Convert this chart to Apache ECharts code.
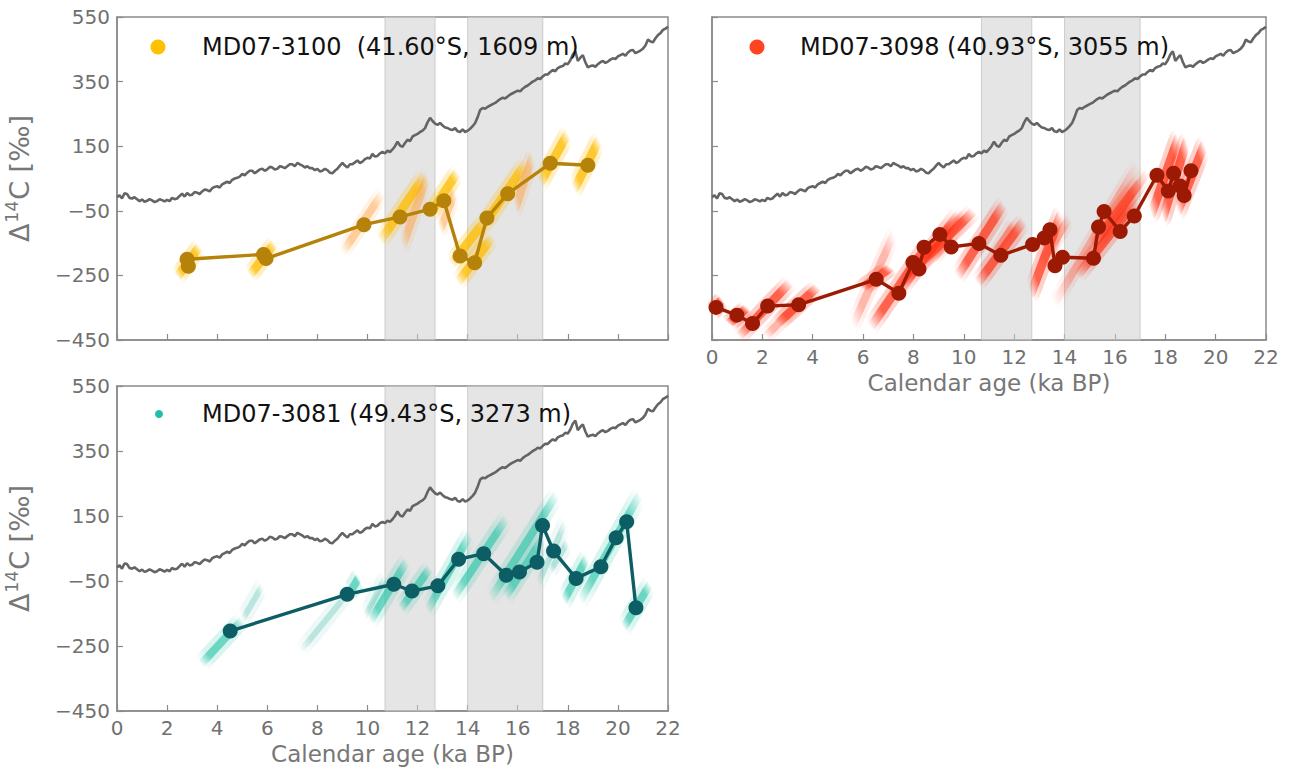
<!DOCTYPE html>
<html><head><meta charset="utf-8">
<script src="https://cdn.jsdelivr.net/npm/echarts@6/dist/echarts.min.js"></script>
<style>html,body{margin:0;padding:0;background:#fff}#c{width:1293px;height:774px}</style>
</head><body><div id="c"></div><script>
// ---------- data ----------
const xTicks = [0, 2, 4, 6, 8, 10, 12, 14, 16, 18, 20, 22];
const yTicks = [-450, -250, -50, 150, 350, 550];
const bandsKa = [[10.7, 12.7], [14.0, 17.0]];

const atmAge = [0,0.1,0.2,0.3,0.4,0.5,0.6,0.7,0.8,0.9,1.0,1.1,1.2,1.3,1.4,1.5,1.6,1.7,1.8,1.9,2.0,2.1,2.2,2.3,2.4,2.5,2.6,2.7,2.8,2.9,3.0,3.1,3.2,3.3,3.4,3.5,3.6,3.7,3.8,3.9,4.0,4.1,4.2,4.3,4.4,4.5,4.6,4.7,4.8,4.9,5.0,5.1,5.2,5.3,5.4,5.5,5.6,5.7,5.8,5.9,6.0,6.1,6.2,6.3,6.4,6.5,6.6,6.7,6.8,6.9,7.0,7.1,7.2,7.3,7.4,7.5,7.6,7.7,7.8,7.9,8.0,8.1,8.2,8.3,8.4,8.5,8.6,8.7,8.8,8.9,9.0,9.1,9.2,9.3,9.4,9.5,9.6,9.7,9.8,9.9,10.0,10.1,10.2,10.3,10.4,10.5,10.6,10.7,10.8,10.9,11.0,11.1,11.2,11.3,11.4,11.5,11.6,11.7,11.8,11.9,12.0,12.1,12.2,12.3,12.4,12.5,12.6,12.7,12.8,12.9,13.0,13.1,13.2,13.3,13.4,13.5,13.6,13.7,13.8,13.9,14.0,14.1,14.2,14.3,14.4,14.5,14.6,14.7,14.8,14.9,15.0,15.1,15.2,15.3,15.4,15.5,15.6,15.7,15.8,15.9,16.0,16.1,16.2,16.3,16.4,16.5,16.6,16.7,16.8,16.9,17.0,17.1,17.2,17.3,17.4,17.5,17.6,17.7,17.8,17.9,18.0,18.1,18.2,18.3,18.4,18.5,18.6,18.7,18.8,18.9,19.0,19.1,19.2,19.3,19.4,19.5,19.6,19.7,19.8,19.9,20.0,20.1,20.2,20.3,20.4,20.5,20.6,20.7,20.8,20.9,21.0,21.1,21.2,21.3,21.4,21.5,21.6,21.7,21.8,21.9,22.0];
const atmD14C = [-8,-2,-12,4,2,-10,-12,-8,-14,-20,-15,-22,-19,-14,-18,-23,-20,-14,-17,-21,-16,-20,-10,-14,-12,-4,3,-6,5,-2,0,8,6,2,10,16,14,10,20,24,26,22,32,36,40,36,46,50,52,56,64,60,68,74,74,66,72,78,80,74,78,86,84,78,80,88,86,82,88,94,94,88,98,94,90,84,88,82,82,76,80,72,74,80,76,68,66,74,80,90,98,90,84,94,94,100,106,98,102,110,114,112,126,118,120,128,132,128,136,132,140,150,164,152,148,160,170,166,180,184,188,194,198,206,224,238,228,220,216,222,214,208,206,202,200,206,196,194,202,194,198,204,212,222,240,262,268,266,272,276,280,284,290,296,300,298,304,310,314,318,322,320,328,334,338,344,350,354,360,358,366,372,372,380,386,382,392,396,398,406,404,416,434,444,414,424,432,410,394,398,400,396,404,410,414,408,412,418,422,420,428,432,436,430,440,446,448,438,442,446,452,462,480,474,472,484,494,500,510,514,520];

const ages3100 = [2.85, 2.8, 5.85, 5.95, 9.86, 11.3, 12.5, 13.05, 13.7, 14.28, 14.77, 15.6, 17.3, 18.8];
const d14c3100 = [-222, -200, -185, -198, -93, -69, -45, -19, -190, -211, -72, 3, 97, 91];

const ages3098 = [0.16, 0.99, 1.61, 2.21, 3.44, 6.52, 7.42, 7.98, 8.22, 8.42, 9.05, 9.5, 10.6, 11.47, 12.73, 13.19, 13.42, 13.62, 13.92, 15.15, 15.35, 15.57, 16.21, 16.77, 17.67, 18.12, 18.33, 18.59, 18.75, 19.02];
const d14c3098 = [-349, -373, -399, -345, -341, -262, -305, -210, -230, -163, -123, -162, -151, -188, -154, -134, -109, -220, -194, -197, -100, -52, -114, -66, 60, 11, 66, 27, -3, 74];

const ages3081 = [4.52, 9.19, 11.05, 11.78, 12.81, 13.64, 14.64, 15.54, 16.07, 16.77, 16.99, 17.43, 18.33, 19.32, 19.93, 20.35, 20.72];
const d14c3081 = [-204, -91, -60, -81, -65, 17, 34, -32, -22, 8, 121, 42, -42, -6, 83, 132, -132];

// probability streaks: [age1, d14c1, age2, d14c2]
const streakStrong3100 = [[2.4,-255,3.3,-160],[5.3,-250,6.3,-150],[10.5,-145,12.3,60],[12.5,-60,13.6,70],[13.35,-215,14.7,-80],[14.5,-110,16.35,100],[13.6,-272,15.0,-130],[16.9,35,18.0,190],[18.25,15,19.25,170]];
const streakFaint3100 = [[9.0,-180,10.6,5],[11.4,-160,12.4,60],[15.9,-45,16.6,120],[12.9,-110,13.5,10]];

const streakStrong3098 = [[0.0,-365,0.4,-325],[0.66,-400,1.4,-350],[1.06,-440,3.11,-271],[2.6,-400,4.2,-285],[5.95,-290,7.1,-225],[6.3,-410,8.6,-150],[7.5,-290,9.8,-60],[8.2,-220,10.4,-50],[9.74,-254,11.6,-28],[10.54,-275,12.39,-80],[12.66,-308,13.85,-62],[14.5,-252,16.9,-15],[15.1,-160,17.0,40],[17.45,-61,18.51,175],[17.9,-72,18.85,164],[18.5,-51,19.55,155]];
const streakFaint3098 = [[2.12,-440,3.5,-330],[5.6,-404,7.22,-122],[13.58,-339,16.9,92],[11.2,-190,12.0,-90],[13.0,-220,14.2,-70],[15.5,-130,17.3,70],[8.8,-200,10.0,-60]];

const streakStrong3081 = [[3.35,-306,5.01,-168],[9.3,-85,9.65,-40],[10.12,-173,11.58,12],[11.32,-137,12.51,-9],[12.38,-142,14.11,95],[13.44,-101,15.57,145],[14.9,-106,17.56,217],[15.5,-100,17.0,80],[17.83,-112,18.76,21],[18.49,-112,20.88,217],[20.22,-194,21.28,-60]];
const streakFaint3081 = [[5.0,-170,5.8,-65],[7.33,-265,9.3,-80],[9.9,-160,10.7,-40],[16.8,-60,17.9,130],[17.3,-20,18.0,70]];

const legendNames = ['MD07-3100  (41.60°S, 1609 m)', 'MD07-3098 (40.93°S, 3055 m)', 'MD07-3081 (49.43°S, 3273 m)'];

// ---------- chart ----------
const FONT = 'DejaVu Sans';
const AX = '#8a8a8a';
const grids = [
  {left: 117, top: 17, width: 551, height: 323},
  {left: 712, top: 17, width: 554, height: 323},
  {left: 117, top: 386, width: 551, height: 325}
];
function xAxisCfg(gi, showLabels, showName) {
  return {type: 'value', gridIndex: gi, min: xTicks[0], max: xTicks[xTicks.length - 1], interval: xTicks[1] - xTicks[0],
    axisLine: {show: true, onZero: false, lineStyle: {color: AX, width: 1.5}},
    axisTick: {show: true, inside: true, length: 6, lineStyle: {color: AX, width: 1.2}},
    axisLabel: {show: showLabels, color: '#707070', fontSize: 20, fontFamily: FONT, margin: 7},
    splitLine: {show: false},
    name: showName ? 'Calendar age (ka BP)' : '', nameLocation: 'middle', nameGap: 31,
    nameTextStyle: {color: '#777', fontSize: 23, fontFamily: FONT}};
}
function yAxisCfg(gi, showLabels, showName) {
  return {type: 'value', gridIndex: gi, min: yTicks[0], max: yTicks[yTicks.length - 1], interval: yTicks[1] - yTicks[0],
    axisLine: {show: true, onZero: false, lineStyle: {color: AX, width: 1.5}},
    axisTick: {show: true, inside: true, length: 6, lineStyle: {color: AX, width: 1.2}},
    axisLabel: {show: showLabels, color: '#707070', fontSize: 20, fontFamily: FONT, margin: 7,
      formatter: v => String(v).replace('-', '\u2212')},
    splitLine: {show: false},
    name: showName ? '{d|Δ}{s|14}{d|C [‰]}' : '', nameLocation: 'middle', nameRotate: 90, nameGap: 82,
    nameTextStyle: {color: '#777', fontFamily: FONT, rich: {
      d: {fontSize: 27, color: '#777', fontFamily: FONT, lineHeight: 32},
      s: {fontSize: 17, color: '#777', fontFamily: FONT, verticalAlign: 'top', lineHeight: 32, padding: [0, 1, 13, 1]}}}};
}
const zip = (a, b) => a.map((v, i) => [v, b[i]]);
function grad(rgb, a) {
  return new echarts.graphic.LinearGradient(0, 1, 1, 0, [
    {offset: 0, color: `rgba(${rgb},0)`}, {offset: 0.2, color: `rgba(${rgb},${a})`},
    {offset: 0.8, color: `rgba(${rgb},${a})`}, {offset: 1, color: `rgba(${rgb},0)`}]);
}
function streakSeries(gi, arr, rgb, aWide, aNarrow, wWide, wNarrow) {
  const mk = (a, w) => ({type: 'lines', coordinateSystem: 'cartesian2d', xAxisIndex: gi, yAxisIndex: gi, z: 2, silent: true,
    lineStyle: {width: w, cap: 'round', opacity: 1},
    data: arr.map(s => ({coords: [[s[0], s[1]], [s[2], s[3]]], lineStyle: {color: grad(rgb, a), width: w}}))});
  return [mk(aWide, wWide), mk(aNarrow, wNarrow)];
}
function bandSeries(gi) {
  return {type: 'line', xAxisIndex: gi, yAxisIndex: gi, data: [], z: 0, silent: true,
    markArea: {silent: true, itemStyle: {color: 'rgba(208,208,208,0.55)', borderColor: 'rgba(190,190,190,0.7)', borderWidth: 1},
      data: bandsKa.map(b => [{xAxis: b[0]}, {xAxis: b[1]}])}};
}
function atmSeries(gi) {
  return {type: 'line', xAxisIndex: gi, yAxisIndex: gi, data: zip(atmAge, atmD14C), showSymbol: false, z: 3, silent: true,
    lineStyle: {color: '#646464', width: 2.6}};
}
function coreSeries(gi, ages, vals, color, name) {
  return {type: 'line', name, xAxisIndex: gi, yAxisIndex: gi, data: zip(ages, vals), z: 5,
    symbol: 'circle', symbolSize: 15, showSymbol: true,
    itemStyle: {color}, lineStyle: {color, width: 3.4}};
}

const series = [];
[0, 1, 2].forEach(g => series.push(bandSeries(g), atmSeries(g)));
series.push(...streakSeries(0, streakStrong3100, '255,188,0', 0.25, 0.75, 18, 9));
series.push(...streakSeries(0, streakFaint3100, '255,150,40', 0.12, 0.4, 16, 8));
series.push(...streakSeries(1, streakStrong3098, '255,40,10', 0.22, 0.65, 18, 9));
series.push(...streakSeries(1, streakFaint3098, '255,60,30', 0.1, 0.3, 16, 8));
series.push(...streakSeries(2, streakStrong3081, '35,195,165', 0.18, 0.6, 18, 8));
series.push(...streakSeries(2, streakFaint3081, '35,170,150', 0.08, 0.25, 16, 6));
series.push(coreSeries(0, ages3100, d14c3100, '#B5820A', legendNames[0]));
series.push(coreSeries(1, ages3098, d14c3098, '#9C1A04', legendNames[1]));
series.push(coreSeries(2, ages3081, d14c3081, '#0C5D64', legendNames[2]));

const legendGraphics = [
  {type: 'circle', z: 100, shape: {cx: 158, cy: 47, r: 7.5}, style: {fill: '#FFC000'}},
  {type: 'text', z: 100, x: 202, y: 47, style: {text: legendNames[0], fontSize: 24, fontFamily: FONT, fill: '#111', verticalAlign: 'middle'}},
  {type: 'circle', z: 100, shape: {cx: 757, cy: 47, r: 7.5}, style: {fill: '#FF4422'}},
  {type: 'text', z: 100, x: 800, y: 47, style: {text: legendNames[1], fontSize: 24, fontFamily: FONT, fill: '#111', verticalAlign: 'middle'}},
  {type: 'circle', z: 100, shape: {cx: 159, cy: 414, r: 4}, style: {fill: '#1FC0A8'}},
  {type: 'text', z: 100, x: 202, y: 414, style: {text: legendNames[2], fontSize: 24, fontFamily: FONT, fill: '#111', verticalAlign: 'middle'}}
];

const chart = echarts.init(document.getElementById('c'), null, {renderer: 'svg', width: 1293, height: 774});
chart.setOption({
  animation: false,
  backgroundColor: '#fff',
  grid: grids.map(g => Object.assign({show: true, borderColor: AX, borderWidth: 1.5, backgroundColor: 'transparent'}, g)),
  xAxis: [xAxisCfg(0, false, false), xAxisCfg(1, true, true), xAxisCfg(2, true, true)],
  yAxis: [yAxisCfg(0, true, true), yAxisCfg(1, false, false), yAxisCfg(2, true, true)],
  series,
  graphic: legendGraphics
});
</script></body></html>
